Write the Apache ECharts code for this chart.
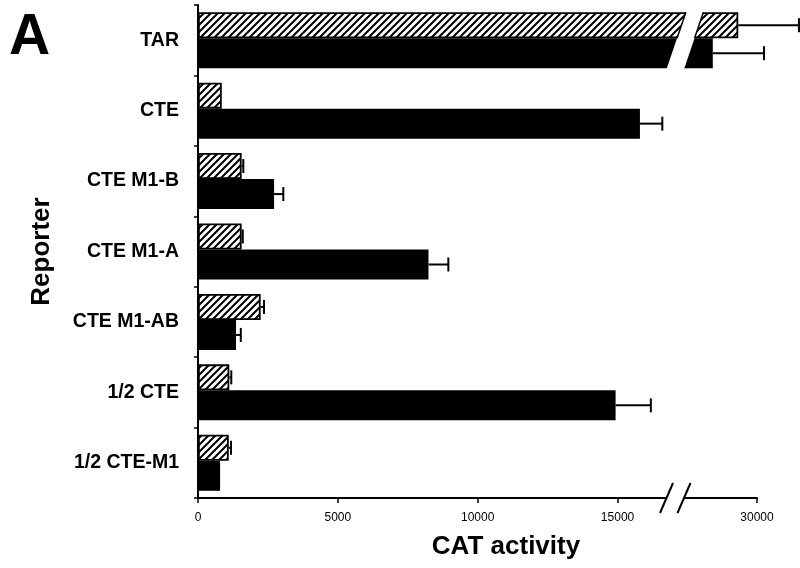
<!DOCTYPE html>
<html>
<head>
<meta charset="utf-8">
<script src="https://cdn.jsdelivr.net/npm/echarts@6/dist/echarts.min.js"></script>
<style>
html,body{margin:0;padding:0;background:#fff;}
#chart{width:800px;height:568px;}
</style>
</head>
<body>
<div id="chart"></div>
<script>
// ---- data ----
const categories = ['TAR', 'CTE', 'CTE M1-B', 'CTE M1-A', 'CTE M1-AB', '1/2 CTE', '1/2 CTE-M1'];
const hatchedValues = [29330, 850, 1560, 1560, 2240, 1120, 1100];
const hatchedErrors = [2170, 0, 60, 40, 120, 70, 80];
const blackValues = [28420, 15800, 2720, 8240, 1360, 14930, 790];
const blackErrors = [1830, 800, 330, 710, 170, 1260, 0];
const xTickValues = [0, 5000, 10000, 15000, 30000];
const breakStart = 16750;
const breakEnd = 27390;

// ---- styling ----
const FONT = '"Liberation Sans", Arial, Helvetica, sans-serif';
const HW = 26;   // hatched bar thickness
const BW = 30;   // black bar thickness
const CAP = 14;

function makeHatch() {
  const s = 7;
  const c = document.createElement('canvas');
  c.width = s; c.height = s;
  const ctx = c.getContext('2d');
  ctx.fillStyle = '#fff';
  ctx.fillRect(0, 0, s, s);
  ctx.strokeStyle = '#000';
  ctx.lineWidth = 2;
  ctx.beginPath();
  ctx.moveTo(-1, s + 1); ctx.lineTo(s + 1, -1);
  ctx.moveTo(-2, 2); ctx.lineTo(2, -2);
  ctx.moveTo(s - 2, s + 2); ctx.lineTo(s + 2, s - 2);
  ctx.stroke();
  return c;
}

const hatchedErrData = hatchedValues.map((v, i) => [v, i, hatchedErrors[i]]);
const blackErrData = blackValues.map((v, i) => [v, i, blackErrors[i]]);

function errRender(offsetFn) {
  return function (params, api) {
    const v = api.value(0), ci = api.value(1), e = api.value(2);
    if (!e) return null;
    const a = api.coord([v, ci]);
    const b = api.coord([v + e, ci]);
    const y = a[1] + offsetFn();
    const st = { stroke: '#000', lineWidth: 2 };
    return {
      type: 'group',
      children: [
        { type: 'line', shape: { x1: a[0], y1: y, x2: b[0], y2: y }, style: st },
        { type: 'line', shape: { x1: b[0], y1: y - CAP / 2, x2: b[0], y2: y + CAP / 2 }, style: st }
      ]
    };
  };
}

function breakRender(params, api) {
  const cs = params.coordSys;
  const k = 0.34;
  const cy = api.coord([0, 0])[1];
  const yt = cy - (HW + BW) / 2;
  const yb = cy + (HW + BW) / 2;
  const xS = api.coord([breakStart, 0])[0];
  const xE = api.coord([breakEnd, 0])[0];
  const H = yb - yt + 2;
  const children = [];
  // cut through the TAR bars
  children.push({
    type: 'polygon',
    shape: { points: [[xS, yb + 1], [xE, yb + 1], [xE + k * H, yt - 1], [xS + k * H, yt - 1]] },
    style: { fill: '#fff' }
  });
  // borders of the hatched bar along the cut
  const edge = (x0) => ({
    type: 'line',
    shape: { x1: x0 + k * (yb + 1 - yt), y1: yt, x2: x0 + k * (yb + 1 - (yt + HW)), y2: yt + HW },
    style: { stroke: '#000', lineWidth: 1.5 }
  });
  children.push(edge(xS), edge(xE));
  // axis break marks
  const ya = cs.y + cs.height;
  children.push({
    type: 'rect', shape: { x: xS, y: ya - 3, width: xE - xS, height: 6 },
    style: { fill: '#fff' }
  });
  [xS, xE].forEach(x => children.push({
    type: 'line',
    shape: { x1: x - 6.5, y1: ya + 15, x2: x + 6.5, y2: ya - 15 },
    style: { stroke: '#000', lineWidth: 2 }
  }));
  return { type: 'group', children };
}

const chart = echarts.init(document.getElementById('chart'), null, { renderer: 'canvas' });
chart.setOption({
  animation: false,
  backgroundColor: '#fff',
  title: {
    text: 'A', left: 4, top: 5,
    textStyle: { fontSize: 57, fontWeight: 'bold', fontFamily: FONT, color: '#000' }
  },
  grid: { left: 198, right: 43, top: 5, bottom: 70, containLabel: false, outerBoundsMode: 'none' },
  xAxis: {
    type: 'value',
    min: 0, max: 30000,
    breaks: [{ start: breakStart, end: breakEnd, gap: '3.13%' }],
    breakArea: {
      show: false,
      itemStyle: { opacity: 0, color: 'transparent', borderColor: 'transparent', borderWidth: 0 },
      zigzagAmplitude: 0,
      expandOnClick: false
    },
    name: 'CAT activity',
    nameLocation: 'middle',
    nameGap: 36,
    nameTextStyle: { fontSize: 26, fontWeight: 'bold', fontFamily: FONT, color: '#000', padding: [0, 0, 0, 57] },
    axisLine: { show: true, lineStyle: { color: '#000', width: 2 } },
    axisTick: { show: true, customValues: xTickValues, length: 5, inside: false, lineStyle: { color: '#000', width: 1.5 } },
    axisLabel: {
      customValues: xTickValues, margin: 14, fontSize: 12, color: '#000', fontFamily: FONT,
      formatter: v => String(v)
    },
    splitLine: { show: false }
  },
  yAxis: {
    type: 'category',
    data: categories,
    inverse: true,
    name: 'Reporter',
    nameLocation: 'middle',
    nameGap: 143,
    nameTextStyle: { fontSize: 26, fontWeight: 'bold', fontFamily: FONT, color: '#000' },
    axisLine: { show: true, lineStyle: { color: '#000', width: 2 } },
    axisTick: { show: true, length: 4, inside: false, lineStyle: { color: '#000', width: 1.5 } },
    axisLabel: { fontSize: 19.5, fontWeight: 'bold', fontFamily: FONT, color: '#000', margin: 19 },
    splitLine: { show: false }
  },
  series: [
    {
      name: 'hatched', type: 'bar', data: hatchedValues, barWidth: HW, barGap: '0%',
      itemStyle: { color: { image: makeHatch(), repeat: 'repeat' }, borderColor: '#000', borderWidth: 1.8 },
      z: 2
    },
    {
      name: 'black', type: 'bar', data: blackValues, barWidth: BW, barGap: '0%',
      itemStyle: { color: '#000' },
      z: 2
    },
    {
      type: 'custom', data: hatchedErrData, encode: { x: 0, y: 1 }, clip: false, z: 5,
      renderItem: errRender(() => -BW / 2)
    },
    {
      type: 'custom', data: blackErrData, encode: { x: 0, y: 1 }, clip: false, z: 5,
      renderItem: errRender(() => HW / 2)
    },
    {
      type: 'custom', data: [[0, 0]], encode: { x: 0, y: 1 }, clip: false, z: 10,
      renderItem: breakRender
    }
  ]
});
</script>
</body>
</html>
